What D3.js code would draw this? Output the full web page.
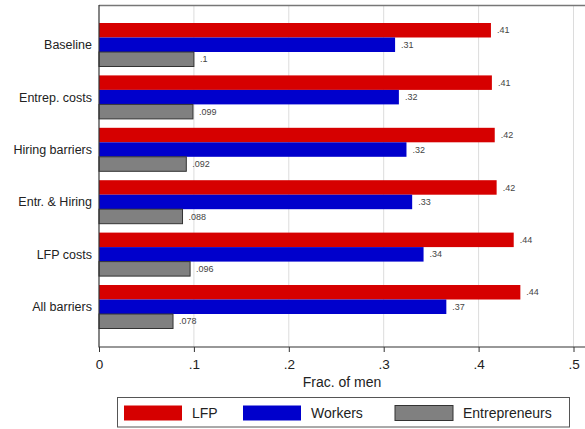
<!DOCTYPE html>
<html>
<head>
<meta charset="utf-8">
<script src="https://cdn.jsdelivr.net/npm/d3@7"></script>
<style>
  html, body { margin: 0; padding: 0; background: #fff; }
  svg { display: block; font-family: "Liberation Sans", Arial, sans-serif; }
</style>
</head>
<body>
<svg id="chart" width="585" height="429"></svg>
<script>
const categories = ["Baseline", "Entrep. costs", "Hiring barriers", "Entr. & Hiring", "LFP costs", "All barriers"];
const seriesNames = ["LFP", "Workers", "Entrepreneurs"];
const lfp = [0.413, 0.414, 0.417, 0.419, 0.437, 0.444];
const workers = [0.312, 0.316, 0.324, 0.330, 0.342, 0.366];
const entrepreneurs = [0.100, 0.099, 0.092, 0.088, 0.096, 0.078];
const xTicks = [0, 0.1, 0.2, 0.3, 0.4, 0.5];
const xTitle = "Frac. of men";
const colors = ["#d60000", "#0000cc", "#808080"];
const strokes = ["#e03030", "#2020d8", "#333333"];

const seriesValues = [lfp, workers, entrepreneurs];
const svg = d3.select("#chart");

const x = d3.scaleLinear().domain([0, 0.5]).range([99, 573.5]);
const y0 = d3.scaleBand().domain(categories).range([23, 328.5]).paddingInner(0.17).paddingOuter(0);
const y1 = d3.scaleBand().domain(seriesNames).range([0, y0.bandwidth()]).padding(0);

const plotTop = 5, plotBottom = 347, plotRight = 585;

// gridlines
svg.append("g").selectAll("line").data(xTicks.filter(d => d > 0)).join("line")
  .attr("x1", d => x(d)).attr("x2", d => x(d))
  .attr("y1", plotTop).attr("y2", plotBottom)
  .attr("stroke", "#dcdcdc").attr("stroke-width", 1);

// top border
svg.append("line").attr("x1", 99).attr("x2", plotRight).attr("y1", plotTop + 0.5).attr("y2", plotTop + 0.5)
  .attr("stroke", "#777").attr("stroke-width", 1.5);

// bars
const fmt = v => d3.format(".2~r")(v).replace(/^0\./, ".");
const groups = svg.append("g").selectAll("g").data(categories).join("g")
  .attr("transform", d => `translate(0,${y0(d)})`);

seriesNames.forEach((s, si) => {
  groups.append("rect")
    .attr("x", x(0))
    .attr("y", y1(s))
    .attr("width", (d, i) => x(seriesValues[si][i]) - x(0))
    .attr("height", y1.bandwidth())
    .attr("fill", colors[si])
    .attr("stroke", si === 2 ? strokes[si] : "none")
    .attr("stroke-width", 1);
  groups.append("text")
    .attr("x", (d, i) => x(seriesValues[si][i]) + 6)
    .attr("y", y1(s) + y1.bandwidth() / 2)
    .attr("dy", "0.35em")
    .attr("font-size", 9)
    .attr("fill", "#444")
    .text((d, i) => fmt(seriesValues[si][i]));
});

// category labels
svg.append("g").selectAll("text").data(categories).join("text")
  .attr("x", 92)
  .attr("y", d => y0(d) + y0.bandwidth() / 2)
  .attr("dy", "0.35em")
  .attr("text-anchor", "end")
  .attr("font-size", 12.5)
  .attr("fill", "#222")
  .text(d => d);

// left axis line
svg.append("line").attr("x1", 99).attr("x2", 99).attr("y1", plotTop).attr("y2", plotBottom + 0.5)
  .attr("stroke", "#333").attr("stroke-width", 1.2);

// x axis
const xAxis = d3.axisBottom(x).tickValues(xTicks).tickSize(5).tickPadding(7)
  .tickFormat(d => d === 0 ? "0" : d3.format(".1~f")(d).replace(/^0\./, "."));
const gx = svg.append("g").attr("transform", `translate(0,${plotBottom})`).call(xAxis);
gx.select(".domain").remove();
gx.append("line").attr("x1", 99).attr("x2", plotRight).attr("y1", 0).attr("y2", 0)
  .attr("stroke", "#333").attr("stroke-width", 1.2);
gx.selectAll(".tick line").attr("stroke", "#333");
gx.selectAll(".tick text").attr("font-size", 13.5).attr("fill", "#222")
  .attr("font-family", "Liberation Sans, Arial, sans-serif");

svg.append("text").attr("x", 342).attr("y", 387)
  .attr("text-anchor", "middle").attr("font-size", 14).attr("fill", "#222")
  .text(xTitle);

// legend
const legend = svg.append("g");
legend.append("rect").attr("x", 117.5).attr("y", 397.5).attr("width", 452).attr("height", 29.5)
  .attr("fill", "#fff").attr("stroke", "#555").attr("stroke-width", 1);
const legX = [124, 243, 395];
seriesNames.forEach((s, i) => {
  legend.append("rect").attr("x", legX[i]).attr("y", 405.5).attr("width", 58).attr("height", 15)
    .attr("fill", colors[i]).attr("stroke", i === 2 ? strokes[i] : "none");
  legend.append("text").attr("x", legX[i] + 68).attr("y", 413).attr("dy", "0.35em")
    .attr("font-size", 14).attr("fill", "#222").text(s);
});
</script>
</body>
</html>
